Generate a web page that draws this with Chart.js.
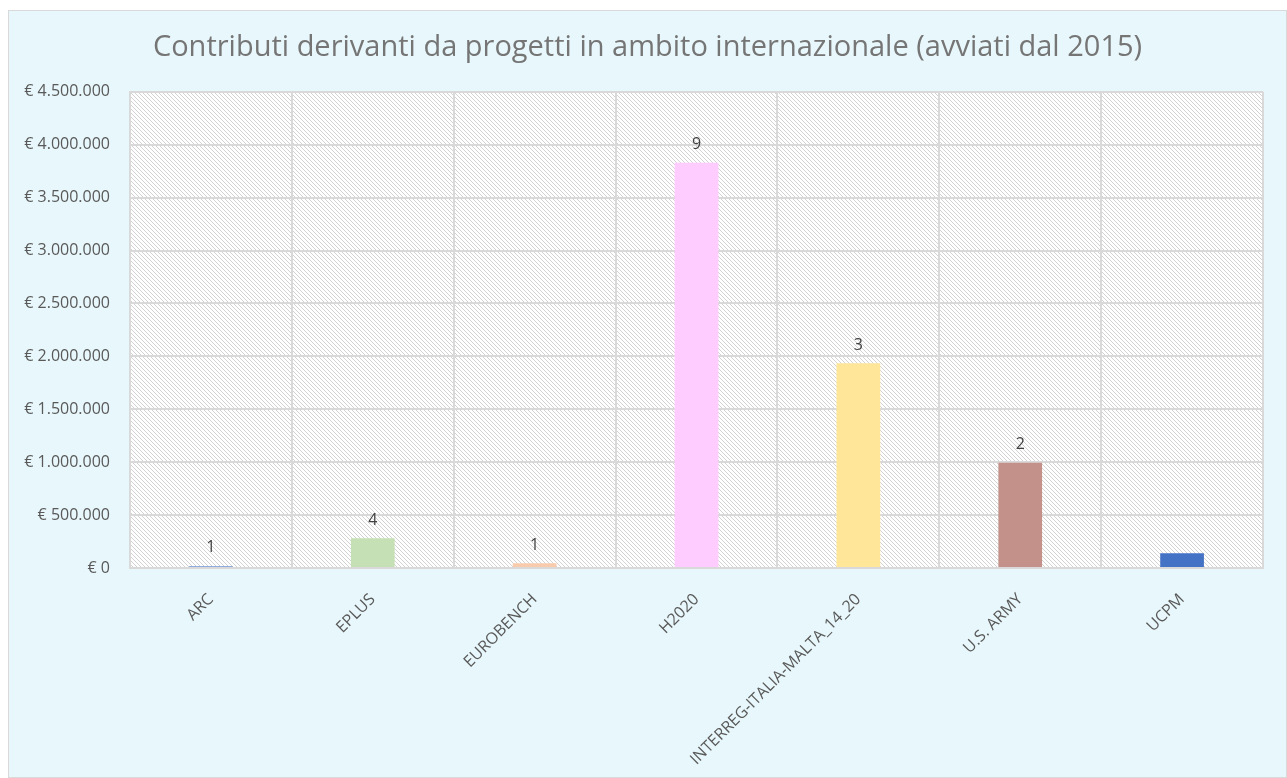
<!DOCTYPE html>
<html><head><meta charset="utf-8">
<script src="https://cdn.jsdelivr.net/npm/chart.js@4.4.1/dist/chart.umd.min.js"></script>
<style>
html,body{margin:0;padding:0;background:#fff;}
#box{position:absolute;left:8px;top:10px;width:1277px;height:766px;border:1px solid #d9d9d9;background:#e8f7fb;}
canvas{display:block;}
</style></head>
<body>
<div id="box"><canvas id="c" width="1277" height="766"></canvas></div>
<script>
const categories = ['ARC','EPLUS','EUROBENCH','H2020','INTERREG-ITALIA-MALTA_14_20','U.S. ARMY','UCPM'];
const contributions = [20000, 280000, 45000, 3830000, 1935000, 995000, 140000];
const projectCounts = [1, 4, 1, 9, 3, 2, null];
const barColors = ['#8faadc','#c5e0b4','#f8cbad','#ffccff','#ffe699','#c4918a','#4472c4'];
const yTicks = {min: 0, max: 4500000, step: 500000};

function fmtEuro(v){
  const s = Math.round(v).toString().replace(/\B(?=(\d{3})+(?!\d))/g,'.');
  return '€ ' + s;
}

const hatchPlugin = {
  id: 'hatch',
  beforeDraw(chart){
    const {ctx, chartArea:a} = chart;
    const s = 4;
    const pc = document.createElement('canvas');
    pc.width = s; pc.height = s;
    const p = pc.getContext('2d');
    p.fillStyle = '#ffffff'; p.fillRect(0,0,s,s);
    p.strokeStyle = '#d2d2d2'; p.lineWidth = 1;
    p.beginPath();
    for (const k of [-s,0,s]) { p.moveTo(k,0); p.lineTo(k+s,s); }
    p.stroke();
    ctx.save();
    ctx.fillStyle = ctx.createPattern(pc,'repeat');
    ctx.fillRect(a.left,a.top,a.right-a.left,a.bottom-a.top);
    ctx.restore();
  }
};

// center the title over the full box width (the right padding would otherwise shift it)
const titleCenter = {
  id: 'titleCenter',
  afterLayout(chart){
    if (chart.titleBlock) { chart.titleBlock.right += 23; chart.titleBlock.width += 23; }
  }
};

const countLabels = {
  id: 'countLabels',
  afterDatasetsDraw(chart){
    const {ctx} = chart;
    const meta = chart.getDatasetMeta(0);
    ctx.save();
    ctx.font = '16px "Open Sans", sans-serif';
    ctx.fillStyle = '#404040';
    ctx.textAlign = 'center';
    ctx.textBaseline = 'middle';
    meta.data.forEach((bar,i)=>{
      if (projectCounts[i] == null) return;
      ctx.fillText(String(projectCounts[i]), bar.x, bar.y - 18);
    });
    ctx.restore();
  }
};

new Chart(document.getElementById('c'), {
  type: 'bar',
  data: {
    labels: categories,
    datasets: [{
      data: contributions,
      backgroundColor: barColors,
      borderWidth: 0,
      barPercentage: 0.27,
      categoryPercentage: 1.0
    }]
  },
  options: {
    responsive: false,
    animation: false,
    events: [],
    layout: {padding: {left: 0, right: 23, top: 0, bottom: 0}},
    plugins: {
      legend: {display: false},
      tooltip: {enabled: false},
      title: {
        display: true,
        text: 'Contributi derivanti da progetti in ambito internazionale (avviati dal 2015)',
        color: '#757575',
        font: {family: '"Open Sans", sans-serif', size: 29, weight: 'normal'},
        padding: {top: 19, bottom: 27}
      }
    },
    scales: {
      x: {
        grid: {color: '#d9d9d9', lineWidth: 2, offset: true, drawTicks: false},
        border: {color: '#d9d9d9', width: 2},
        ticks: {
          color: '#595959',
          font: {family: '"Open Sans", sans-serif', size: 16},
          minRotation: 45, maxRotation: 45,
          padding: 22,
          autoSkip: false
        },
        afterFit(scale){ scale.height = 209; }
      },
      y: {
        min: yTicks.min, max: yTicks.max,
        grid: {color: '#d9d9d9', lineWidth: 2, drawTicks: false},
        border: {color: '#d9d9d9', width: 2},
        ticks: {
          stepSize: yTicks.step,
          color: '#595959',
          font: {family: '"Open Sans", sans-serif', size: 16},
          padding: 20,
          callback: v => fmtEuro(v)
        },
        afterFit(scale){ scale.width = 121; }
      }
    }
  },
  plugins: [hatchPlugin, titleCenter, countLabels]
});
</script>
</body></html>
